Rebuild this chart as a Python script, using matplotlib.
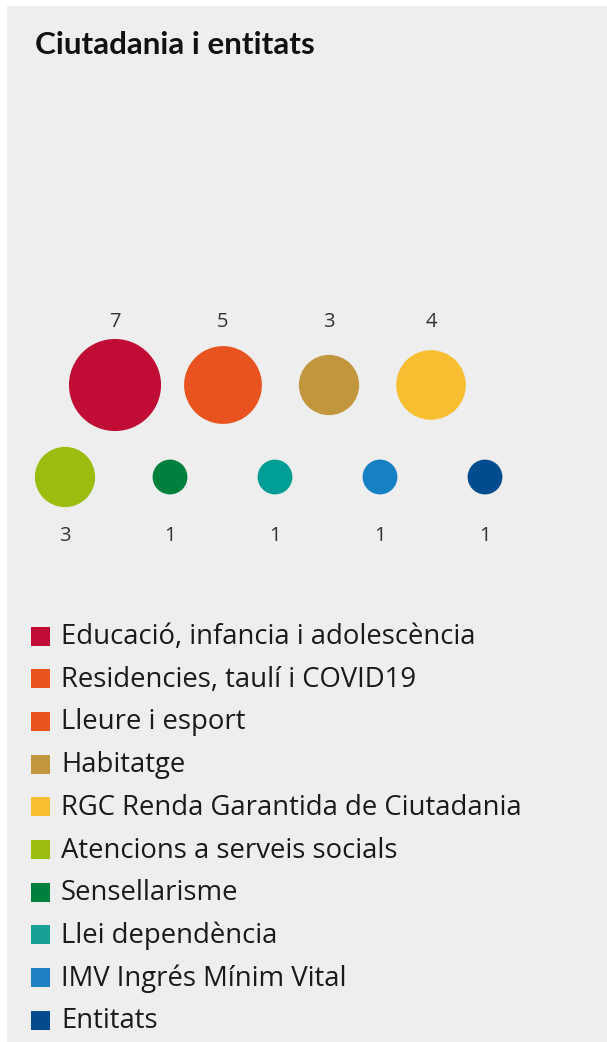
import matplotlib
matplotlib.use("Agg")
import matplotlib.pyplot as plt
from matplotlib.patches import Circle, Rectangle
import numpy as np

title = "Ciutadania i entitats"
bubble_values = [7, 5, 3, 4, 3, 1, 1, 1, 1]
bubble_colors = ["#C10D35", "#E8531F", "#C2963D", "#F6BE30", "#9ABD10",
                 "#00803D", "#009E94", "#1780C3", "#014C8E"]
legend_labels = ["Educació, infancia i adolescència", "Residencies, taulí i COVID19",
                 "Lleure i esport", "Habitatge", "RGC Renda Garantida de Ciutadania",
                 "Atencions a serveis socials", "Sensellarisme", "Llei dependència",
                 "IMV Ingrés Mínim Vital", "Entitats"]
legend_colors = ["#C10D35", "#E8531F", "#E8531F", "#C2963D", "#F6BE30",
                 "#9ABD10", "#00803D", "#17A096", "#1F80C4", "#034B8E"]

W, H = 607, 1042
fig = plt.figure(figsize=(W / 100, H / 100), dpi=100)
fig.patch.set_facecolor("white")
ax = fig.add_axes([0, 0, 1, 1])
ax.set_xlim(0, W)
ax.set_ylim(H, 0)
ax.axis("off")

ax.add_patch(Rectangle((7, 6), W - 7, H - 6, facecolor="#EEEEEE", edgecolor="none", zorder=0))

ax.text(35, 45, title, fontsize=22.6, fontweight="bold", family="Lato",
        color="#111111", va="center", ha="left")

# layout
xs = [115, 223, 329, 431, 65, 170, 275, 380, 485]
ys = [385, 385, 385, 385, 477, 477, 477, 477, 477]
k = 17.4
for i, (v, c) in enumerate(zip(bubble_values, bubble_colors)):
    r = k * np.sqrt(v)
    ax.add_patch(Circle((xs[i], ys[i]), r, facecolor=c, edgecolor="none", zorder=2))
    ty = 322 if i < 4 else 536
    ax.text(xs[i], ty, str(v), fontsize=14.5, family="Open Sans", color="#333333",
            ha="center", va="center")

y0, dy = 636, 42.7
for j, (lab, c) in enumerate(zip(legend_labels, legend_colors)):
    y = y0 + j * dy
    ax.add_patch(Rectangle((31, y - 9.5), 19, 19, facecolor=c, edgecolor="none"))
    ax.text(61, y + 1, lab, fontsize=19.8, family="Open Sans", color="#1a1a1a",
            ha="left", va="center")

fig.savefig("out.png", dpi=100, facecolor="white")
